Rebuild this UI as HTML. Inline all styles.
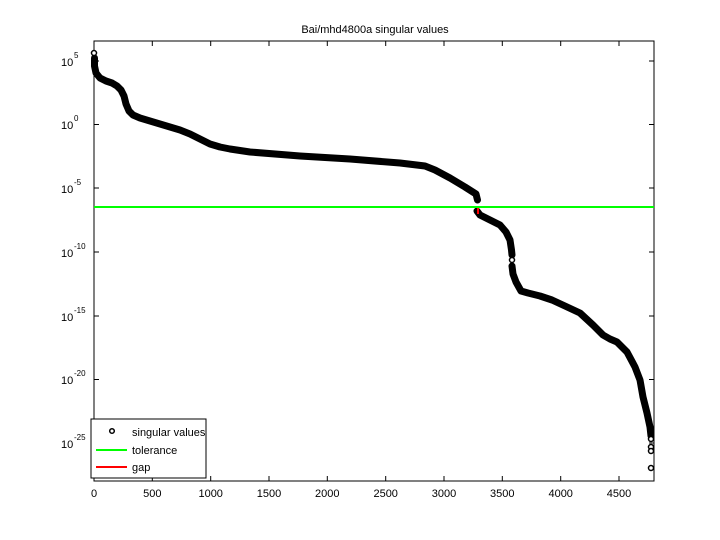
<!DOCTYPE html>
<html><head><meta charset="utf-8"><style>
body{margin:0;background:#fff}
svg{display:block;font-family:"Liberation Sans",sans-serif}
</style></head><body>
<svg width="720" height="540" viewBox="0 0 720 540">
<rect width="720" height="540" fill="#fff"/>
<text x="375" y="33" font-size="11" text-anchor="middle">Bai/mhd4800a singular values</text>
<g stroke="#000" stroke-width="1">
<rect x="94" y="41" width="560" height="440" fill="none"/>
<line x1="152.3" y1="481" x2="152.3" y2="476"/><line x1="210.7" y1="481" x2="210.7" y2="476"/>
<line x1="269" y1="481" x2="269" y2="476"/><line x1="327.3" y1="481" x2="327.3" y2="476"/>
<line x1="385.7" y1="481" x2="385.7" y2="476"/><line x1="444" y1="481" x2="444" y2="476"/>
<line x1="502.3" y1="481" x2="502.3" y2="476"/><line x1="560.7" y1="481" x2="560.7" y2="476"/>
<line x1="619" y1="481" x2="619" y2="476"/>
<line x1="152.3" y1="41" x2="152.3" y2="46"/><line x1="210.7" y1="41" x2="210.7" y2="46"/>
<line x1="269" y1="41" x2="269" y2="46"/><line x1="327.3" y1="41" x2="327.3" y2="46"/>
<line x1="385.7" y1="41" x2="385.7" y2="46"/><line x1="444" y1="41" x2="444" y2="46"/>
<line x1="502.3" y1="41" x2="502.3" y2="46"/><line x1="560.7" y1="41" x2="560.7" y2="46"/>
<line x1="619" y1="41" x2="619" y2="46"/>
<line x1="94" y1="61" x2="99" y2="61"/><line x1="94" y1="124.5" x2="99" y2="124.5"/>
<line x1="94" y1="188" x2="99" y2="188"/><line x1="94" y1="252" x2="99" y2="252"/>
<line x1="94" y1="316" x2="99" y2="316"/><line x1="94" y1="379.5" x2="99" y2="379.5"/>
<line x1="94" y1="443" x2="99" y2="443"/>
<line x1="654" y1="61" x2="649" y2="61"/><line x1="654" y1="124.5" x2="649" y2="124.5"/>
<line x1="654" y1="188" x2="649" y2="188"/><line x1="654" y1="252" x2="649" y2="252"/>
<line x1="654" y1="316" x2="649" y2="316"/><line x1="654" y1="379.5" x2="649" y2="379.5"/>
<line x1="654" y1="443" x2="649" y2="443"/>
</g>
<g font-size="11" text-anchor="middle">
<text x="94" y="497">0</text><text x="152.3" y="497">500</text><text x="210.7" y="497">1000</text>
<text x="269" y="497">1500</text><text x="327.3" y="497">2000</text><text x="385.7" y="497">2500</text>
<text x="444" y="497">3000</text><text x="502.3" y="497">3500</text><text x="560.7" y="497">4000</text>
<text x="619" y="497">4500</text>
</g>
<g font-size="11">
<text x="61" y="66">10</text><text x="74" y="58" font-size="8">5</text>
<text x="61" y="129">10</text><text x="74" y="121" font-size="8">0</text>
<text x="61" y="193">10</text><text x="74" y="185" font-size="8">-5</text>
<text x="61" y="257">10</text><text x="74" y="249" font-size="8">-10</text>
<text x="61" y="321">10</text><text x="74" y="313" font-size="8">-15</text>
<text x="61" y="384">10</text><text x="74" y="376" font-size="8">-20</text>
<text x="61" y="448">10</text><text x="74" y="440" font-size="8">-25</text>
</g>
<g fill="none" stroke="#000" stroke-width="7" stroke-linecap="round" stroke-linejoin="round">
<polyline points="94.5,58 94.5,66 96,73 100,78 106,81 112,83 117,86 121,90 124,96 126,104 129,111 133,115 140,118 150,121 160,124 170,127 180,130 190,134 200,139 210,144 220,147 230,149 250,152 300,156 350,159 400,163 425,166 435,170 450,178 465,187 476,194 477.5,200"/>
<polyline points="477,211 480,215 490,220 500,225 506,232 510,240 511.5,250 512,255"/>
<polyline points="512,266 513,274 516,282 521,291 528,293 540,296 552,300 565,306 580,313 593,325 603,335 610,339 617,342 627,352 635,367 640,380 643,397 647,413 650,427 651,436"/>
</g>
<g fill="#fff" stroke="#000" stroke-width="1.5">
<circle cx="94" cy="53" r="2.5"/><circle cx="512" cy="260" r="2.5"/>
<circle cx="651" cy="439" r="2.5"/><circle cx="651" cy="447" r="2.5"/><circle cx="651" cy="451" r="2.5"/><circle cx="651" cy="468" r="2.5"/>
</g>
<line x1="94" y1="207" x2="654" y2="207" stroke="#00ff00" stroke-width="2"/>
<line x1="478" y1="208" x2="478" y2="214" stroke="#ff0000" stroke-width="2"/>
<rect x="91" y="419" width="115" height="59" fill="#fff" stroke="#000" stroke-width="1"/>
<circle cx="112" cy="431" r="2.3" fill="#fff" stroke="#000" stroke-width="1.5"/>
<line x1="96" y1="450" x2="127" y2="450" stroke="#00ff00" stroke-width="2"/>
<line x1="96" y1="467" x2="127" y2="467" stroke="#ff0000" stroke-width="2"/>
<g font-size="11"><text x="132" y="436">singular values</text><text x="132" y="454">tolerance</text><text x="132" y="471">gap</text></g>
</svg>
</body></html>
